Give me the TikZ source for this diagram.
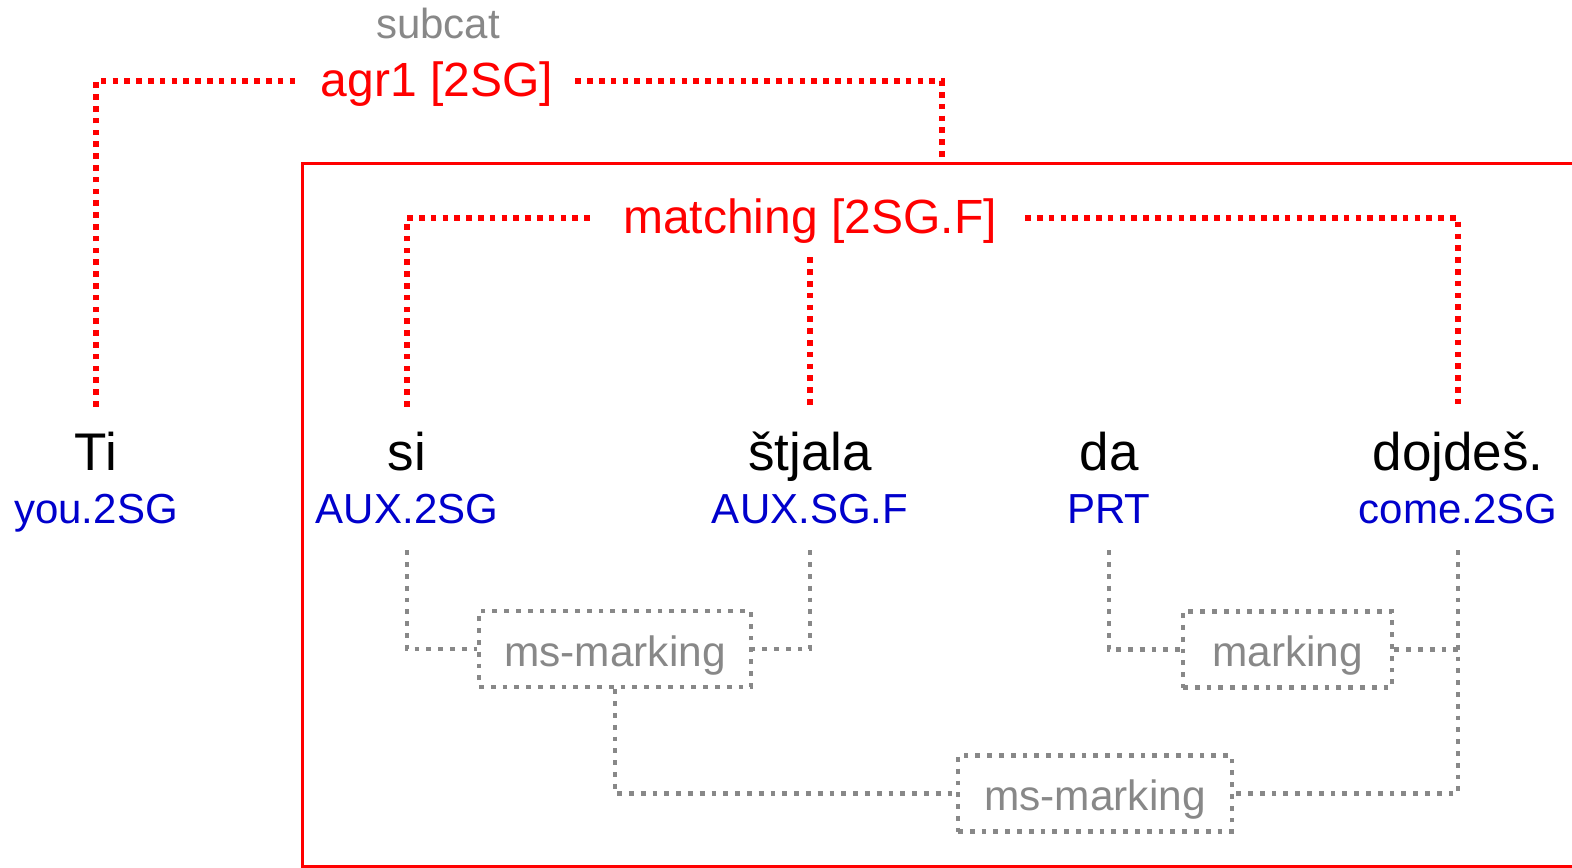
\documentclass[tikz,border=0pt]{standalone}
\usepackage{fontspec}
\setmainfont{Liberation Sans}
\definecolor{glossblue}{RGB}{0,0,204}
\definecolor{markgray}{RGB}{136,136,136}
\begin{document}
\begin{tikzpicture}[x=0.5pt,y=-0.5pt,
  wort/.style={font=\fontsize{26.5}{30}\selectfont, anchor=base, text height=19pt, text depth=6pt, inner ysep=12.5pt},
  glosse/.style={font=\fontsize{21}{24}\selectfont, text=glossblue, anchor=base, text height=15pt, text depth=5pt, inner ysep=8.5pt},
  merkmal/.style={font=\fontsize{24}{27}\selectfont, text=red, text height=20pt, text depth=5pt, inner ysep=7pt},
  markbox/.style={draw=markgray, text=markgray, font=\fontsize{21.2}{25}\selectfont, line width=2.4pt, dash pattern=on 2.4pt off 3.5pt, text height=27.5pt, text depth=10.5pt, inner sep=0pt},
  rotpunkt/.style={red, line width=2.8pt, dash pattern=on 2.8pt off 3.1pt},
  graupunkt/.style={markgray, line width=2.4pt, dash pattern=on 2.4pt off 3.5pt}]
  \useasboundingbox (0,0) rectangle (1572,867);
  % Rahmen
  \coordinate (rahmen) at (942,163);
  \draw[red, line width=1.5pt] (1572,163) -- (302,163) -- (302,866) -- (1572,866);
  % Merkmale
  \node[font=\fontsize{21}{25}\selectfont, text=markgray, anchor=base] (subcat) at (438,38) {subcat};
  \node[merkmal, inner xsep=11pt] (agr) at (437,81) {agr1 [2SG]};
  \node[merkmal, inner xsep=14pt] (match) at (810,218) {matching [2SG.F]};
  % Woerter
  \node[wort] (ti) at (96,470) {Ti};
  \node[wort] (si) at (407,470) {si};
  \node[wort] (stjala) at (810,470) {štjala};
  \node[wort] (da) at (1109,470) {da};
  \node[wort] (dojdes) at (1458,470) {dojdeš.};
  % Glossen
  \node[glosse] (gti) at (96,523) {you.2SG};
  \node[glosse] (gsi) at (407,523) {AUX.2SG};
  \node[glosse] (gstjala) at (810,523) {AUX.SG.F};
  \node[glosse] (gda) at (1109,523) {PRT};
  \node[glosse] (gdojdes) at (1458,523) {come.2SG};
  % Markierung
  \node[markbox, minimum width=136pt] (ms1) at (615,649) {ms-marking};
  \node[markbox, minimum width=104.5pt] (mk) at (1287.5,649.5) {marking};
  \node[markbox, minimum width=137pt] (ms2) at (1095,793.5) {ms-marking};
  % Kongruenz
  \draw[rotpunkt] (ti.north) |- (agr.west);
  \draw[rotpunkt] (agr.east) -| (rahmen);
  \draw[rotpunkt] (si.north) |- (match.west);
  \draw[rotpunkt] (match.east) -| (dojdes.north);
  \draw[rotpunkt] (match.south) -- (stjala.north);
  % Verbindungen
  \draw[graupunkt] (gsi.south) |- (ms1.west);
  \draw[graupunkt] (gstjala.south) |- (ms1.east);
  \draw[graupunkt] (ms1.south) |- (ms2.west);
  \draw[graupunkt] (gda.south) |- (mk.west);
  \draw[graupunkt] (gdojdes.south) |- (ms2.east);
  \draw[graupunkt] (mk.east) -- (mk.east -| gdojdes.south);
\end{tikzpicture}
\end{document}
